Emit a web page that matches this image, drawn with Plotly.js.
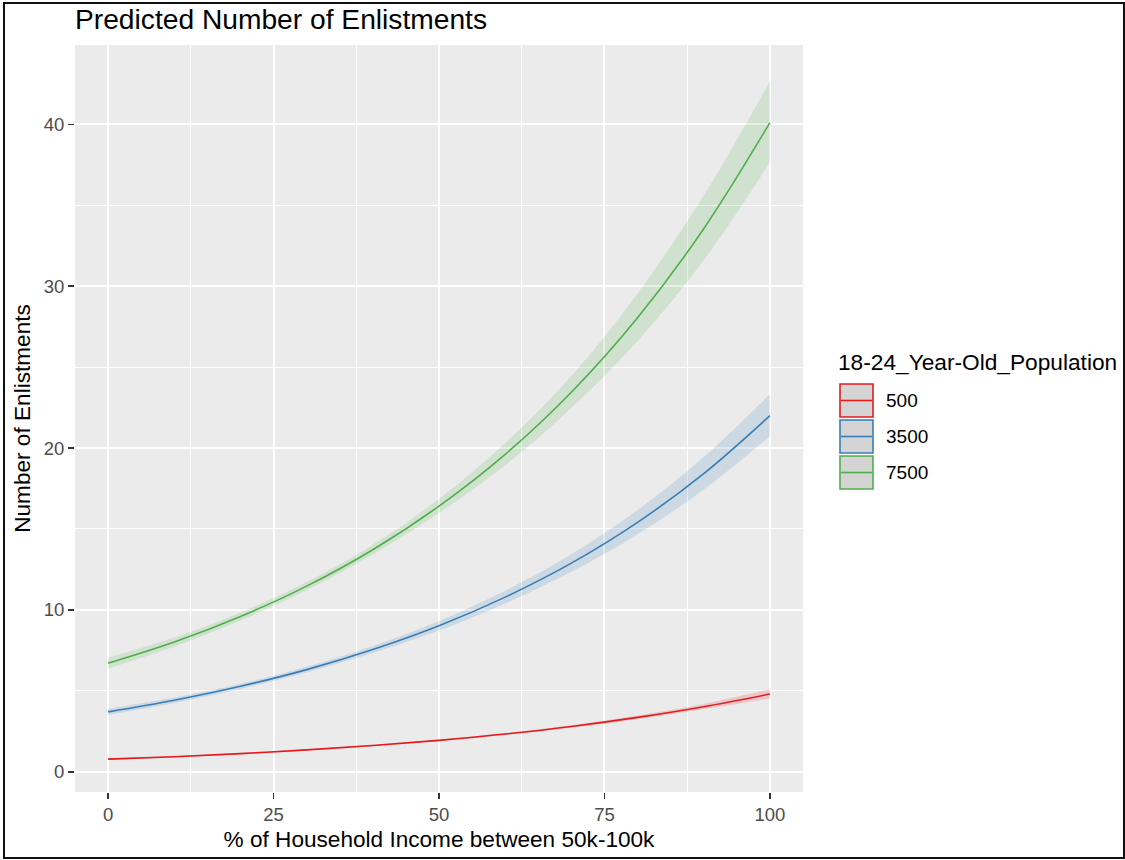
<!DOCTYPE html>
<html>
<head>
<meta charset="utf-8">
<script src="https://cdn.plot.ly/plotly-3.0.1.min.js"></script>
<style>
  html, body { margin: 0; padding: 0; background: #fff; }
  #chart { width: 1125px; height: 860px; }
  #frame { position: absolute; left: 3px; top: 2px; width: 1118px; height: 853px; border: 2px solid #111; pointer-events: none; }
</style>
</head>
<body>
<div id="chart"></div>
<div id="frame"></div>
<script>
// ---- data ----
const xVals = [0, 10, 20, 30, 40, 50, 60, 70, 80, 90, 100];
const groups = ["500", "3500", "7500"];
const colors = ["#E41A1C", "#377EB8", "#4DAF4A"];

const fit500   = [0.78, 0.93, 1.12, 1.35, 1.62, 1.94, 2.33, 2.80, 3.36, 4.02, 4.80];
const upper500 = [0.83, 0.97, 1.16, 1.39, 1.66, 1.99, 2.39, 2.88, 3.48, 4.19, 5.10];
const lower500 = [0.73, 0.89, 1.08, 1.31, 1.58, 1.89, 2.27, 2.72, 3.25, 3.86, 4.52];

const fit3500   = [3.70, 4.42, 5.28, 6.31, 7.55, 9.02, 10.79, 12.89, 15.41, 18.42, 22.00];
const upper3500 = [3.90, 4.59, 5.44, 6.49, 7.77, 9.32, 11.19, 13.44, 16.17, 19.44, 23.33];
const lower3500 = [3.51, 4.25, 5.12, 6.13, 7.33, 8.72, 10.39, 12.35, 14.67, 17.44, 20.73];

const fit7500   = [6.70, 8.01, 9.59, 11.47, 13.72, 16.41, 19.61, 23.45, 28.05, 33.55, 40.10];
const upper7500 = [7.05, 8.29, 9.84, 11.72, 14.02, 16.86, 20.31, 24.45, 29.55, 35.60, 42.65];
const lower7500 = [6.37, 7.74, 9.35, 11.22, 13.42, 15.98, 18.93, 22.48, 26.62, 31.60, 37.65];

const xTicks = [0, 25, 50, 75, 100];
const yTicks = [0, 10, 20, 30, 40];

const titleText = "Predicted Number of Enlistments";
const xTitle = "% of Household Income between 50k-100k";
const yTitle = "Number of Enlistments";
const legendTitle = "18-24_Year-Old_Population";

// ---- build ----
const fits = [fit500, fit3500, fit7500];
const uppers = [upper500, upper3500, upper7500];
const lowers = [lower500, lower3500, lower7500];

function rgba(hex, a) {
  const r = parseInt(hex.slice(1,3),16), g = parseInt(hex.slice(3,5),16), b = parseInt(hex.slice(5,7),16);
  return `rgba(${r},${g},${b},${a})`;
}

const traces = [];
groups.forEach((g, i) => {
  traces.push({x: xVals, y: lowers[i], mode: 'lines', line: {width: 0, shape: 'spline', color: colors[i]},
               showlegend: false, hoverinfo: 'skip'});
  traces.push({x: xVals, y: uppers[i], mode: 'lines', line: {width: 0, shape: 'spline', color: colors[i]},
               fill: 'tonexty', fillcolor: rgba(colors[i], 0.17), showlegend: false, hoverinfo: 'skip'});
});
groups.forEach((g, i) => {
  traces.push({x: xVals, y: fits[i], mode: 'lines', name: g,
               line: {width: 1.6, shape: 'spline', color: colors[i]}, showlegend: false});
});

// plot area in pixels
const L = 75, R = 803, T = 45, B = 792, W = 1125, H = 860;
const px = v => (v - L) / (R - L);
const py = v => (B - v) / (B - T);

const shapes = [];
const annotations = [];
const keyTops = [384, 420, 456];
const keySize = 33;
groups.forEach((g, i) => {
  const t = keyTops[i];
  shapes.push({type: 'rect', xref: 'paper', yref: 'paper', x0: px(840), x1: px(840 + keySize),
               y0: py(t), y1: py(t + keySize), fillcolor: '#D4D4D4', line: {color: colors[i], width: 1.6}});
  shapes.push({type: 'line', xref: 'paper', yref: 'paper', x0: px(841), x1: px(839 + keySize),
               y0: py(t + keySize / 2), y1: py(t + keySize / 2), line: {color: colors[i], width: 1.6}});
  annotations.push({xref: 'paper', yref: 'paper', x: px(884), y: py(t + keySize / 2), xanchor: 'left', yanchor: 'middle',
                    text: g, showarrow: false, font: {size: 19, color: '#000'}});
});
annotations.push({xref: 'paper', yref: 'paper', x: px(836), y: py(362), xanchor: 'left', yanchor: 'middle',
                  text: legendTitle, showarrow: false, font: {size: 22.7, color: '#000'}});

const layout = {
  width: W, height: H,
  margin: {l: L, r: W - R, t: T, b: H - B, pad: 0},
  paper_bgcolor: '#fff', plot_bgcolor: '#EBEBEB',
  font: {family: 'Liberation Sans, Arial, sans-serif', color: '#000'},
  title: {text: titleText, font: {size: 28.2, color: '#000'}, xref: 'paper', x: 0, xanchor: 'left',
          yref: 'container', y: 1 - 19 / H, yanchor: 'middle'},
  showlegend: false,
  xaxis: {
    range: [-5, 105], tickvals: xTicks, ticktext: xTicks.map(String),
    ticks: 'outside', ticklen: 6, tickwidth: 1.5, tickcolor: '#333',
    tickfont: {size: 18.5, color: '#4D4D4D'},
    showgrid: true, gridcolor: '#FFFFFF', gridwidth: 2,
    minor: {dtick: 12.5, tick0: 12.5, showgrid: true, gridcolor: '#FFFFFF', gridwidth: 1, ticks: ''},
    zeroline: false, showline: false,
    title: {text: xTitle, font: {size: 22.6, color: '#000'}, standoff: 6}
  },
  yaxis: {
    range: [-1.25, 44.9], tickvals: yTicks, ticktext: yTicks.map(String),
    ticks: 'outside', ticklen: 6, tickwidth: 1.5, tickcolor: '#333',
    tickfont: {size: 18.5, color: '#4D4D4D'},
    showgrid: true, gridcolor: '#FFFFFF', gridwidth: 2,
    minor: {dtick: 5, tick0: 5, showgrid: true, gridcolor: '#FFFFFF', gridwidth: 1, ticks: ''},
    zeroline: false, showline: false,
    title: {text: yTitle, font: {size: 22.6, color: '#000'}, standoff: 6}
  },
  shapes: shapes,
  annotations: annotations
};

Plotly.newPlot('chart', traces, layout, {displayModeBar: false, staticPlot: true});
</script>
</body>
</html>
